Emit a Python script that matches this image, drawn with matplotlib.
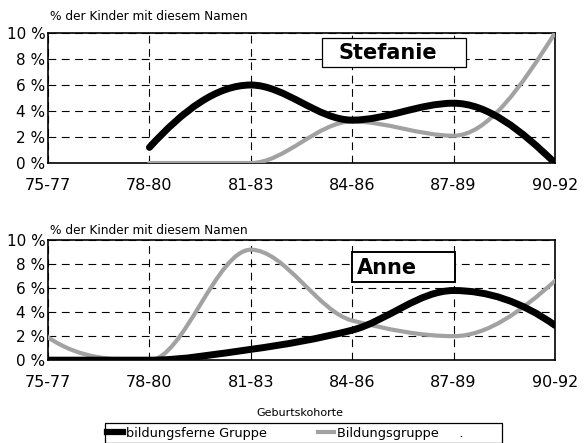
import numpy as np
import matplotlib
matplotlib.use("Agg")
import matplotlib.pyplot as plt
from matplotlib.path import Path
from matplotlib.patches import PathPatch, Rectangle
from matplotlib.lines import Line2D

plt.rcParams['font.family'] = ['DejaVu Sans']

cohorts = ["75-77", "78-80", "81-83", "84-86", "87-89", "90-92"]

# Stefanie (values in %), None = no data
stef_ferne = [None, 1.2, 6.0, 3.3, 4.6, 0.0]
stef_bildung = [None, 0.0, 0.0, 3.2, 2.1, 10.0]

# Anne
anne_ferne = [0.0, 0.0, 0.9, 2.5, 5.8, 2.9]
anne_bildung = [1.9, 0.0, 9.2, 3.3, 2.0, 6.6]

BLACK = "#000000"
GRAY = "#a2a2a2"


def smooth_path(vals):
    # monotone cubic (pchip-like) through the points, drawn as bezier curves
    pts = [(i, v) for i, v in enumerate(vals) if v is not None]
    x = np.array([p[0] for p in pts], dtype=float)
    y = np.array([p[1] for p in pts], dtype=float)
    n = len(x)
    h = np.diff(x)
    d = np.diff(y) / h
    m = np.zeros(n)
    for k in range(1, n - 1):
        if d[k - 1] * d[k] > 0:
            m[k] = 2 * d[k - 1] * d[k] / (d[k - 1] + d[k])
    # end slopes
    for k, a, b in [(0, d[0], d[1]), (n - 1, d[-1], d[-2])]:
        s = (3 * a - b) / 2.0
        if np.sign(s) != np.sign(a):
            s = 0.0
        elif np.sign(a) != np.sign(b) and abs(s) > 3 * abs(a):
            s = 3 * a
        m[k] = s
    verts = [(x[0], y[0])]
    codes = [Path.MOVETO]
    for k in range(n - 1):
        hk = h[k] / 3.0
        verts += [(x[k] + hk, y[k] + m[k] * hk),
                  (x[k + 1] - hk, y[k + 1] - m[k + 1] * hk),
                  (x[k + 1], y[k + 1])]
        codes += [Path.CURVE4] * 3
    return Path(verts, codes)


def draw_panel(ax, ferne, bildung):
    ax.add_patch(PathPatch(smooth_path(bildung), fill=False, edgecolor=GRAY,
                           lw=3.0, capstyle='round', zorder=3))
    ax.add_patch(PathPatch(smooth_path(ferne), fill=False, edgecolor=BLACK,
                           lw=5.0, capstyle='round', zorder=4))
    ax.set_xlim(0, len(cohorts) - 1)
    ax.set_ylim(0, 10)
    ax.set_xticks(range(len(cohorts)))
    ax.set_xticklabels(cohorts, fontsize=11.5)
    ax.set_yticks(range(0, 11, 2))
    ax.set_yticklabels(["%d %%" % v for v in range(0, 11, 2)], fontsize=11)
    ax.tick_params(axis='x', length=0, pad=10.5)
    ax.tick_params(axis='y', length=0, pad=2)
    ax.grid(True, color="black", linestyle=(0, (7, 5)), lw=0.8)
    for s in ax.spines.values():
        s.set_linewidth(1.2)


fig = plt.figure(figsize=(5.86, 4.43), dpi=100)
ax1 = fig.add_axes([0.082, 0.632, 0.865, 0.2935])
ax2 = fig.add_axes([0.082, 0.187, 0.865, 0.271])

draw_panel(ax1, stef_ferne, stef_bildung)
draw_panel(ax2, anne_ferne, anne_bildung)

# name boxes
ax1.add_patch(Rectangle((2.70, 7.38), 1.42, 2.22, fc='white', ec='black',
                        lw=0.9, zorder=6))
ax1.text(3.35, 8.5, "Stefanie", fontsize=15, fontweight='bold',
         ha='center', va='center', zorder=7)
ax2.add_patch(Rectangle((3.0, 6.5), 1.01, 2.5, fc='white', ec='black',
                        lw=1.4, zorder=6))
ax2.text(3.05, 7.7, "Anne", fontsize=15, fontweight='bold',
         ha='left', va='center', zorder=7)

fig.text(50 / 586, 1 - 17 / 443, "% der Kinder mit diesem Namen",
         fontsize=8.7, va='center')
fig.text(50 / 586, 1 - 230 / 443, "% der Kinder mit diesem Namen",
         fontsize=8.7, va='center')
fig.text(300 / 586, 1 - 413 / 443, "Geburtskohorte", fontsize=8,
         ha='center', va='center')

handles = [Line2D([], [], color=BLACK, lw=4.5),
           Line2D([], [], color=GRAY, lw=3)]
leg = fig.legend(handles, ["bildungsferne Gruppe", "Bildungsgruppe     ."],
                 loc='center left', bbox_to_anchor=(107 / 586, 1 - 433 / 443),
                 ncol=2, fontsize=9.3, frameon=False,
                 handlelength=1.25, handletextpad=0.2, columnspacing=4.0,
                 borderpad=0, borderaxespad=0)
fig.add_artist(Rectangle((105 / 586, 0), 397 / 586, 20 / 443,
                         transform=fig.transFigure, fill=False,
                         ec='black', lw=0.9))

fig.savefig("out.png", dpi=100)
